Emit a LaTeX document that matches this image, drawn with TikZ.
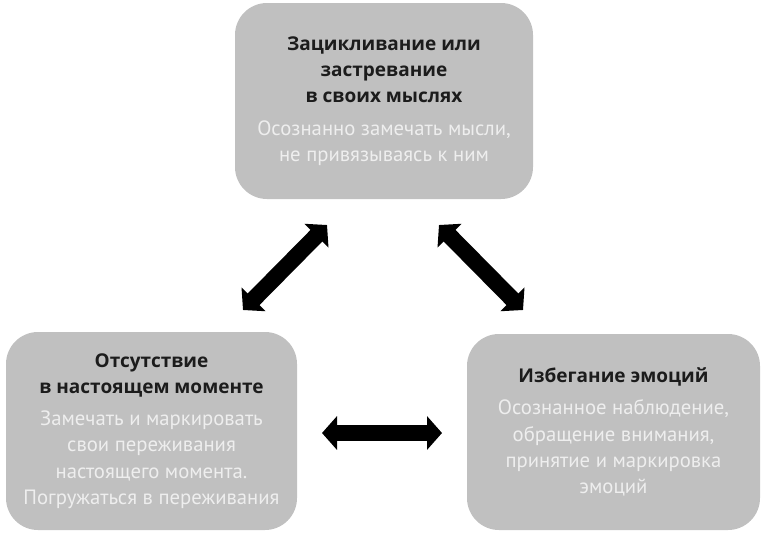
\documentclass[tikz,border=0pt]{standalone}
\usepackage{fontspec}
\setmainfont{PT Sans}
\newfontfamily\titlefont{Open Sans}
\usetikzlibrary{arrows.meta}
\definecolor{boxgray}{RGB}{192,192,192}
\definecolor{titlecol}{RGB}{28,28,28}
\definecolor{bodycol}{RGB}{238,238,238}
\tikzset{
  box/.style={fill=boxgray, rounded corners=32pt, inner sep=0pt, align=center,
    font=\fontsize{20.7}{26.3}\selectfont},
  bigarrow/.style={line width=16.5pt, {Triangle[length=15pt,width=33pt]}-{Triangle[length=15pt,width=33pt]}},
}
\newcommand{\ttl}[1]{\textcolor{titlecol}{\titlefont\bfseries\fontsize{19}{26.3}\selectfont #1}}
\newcommand{\bdy}[1]{\textcolor{bodycol}{#1}}
\begin{document}
\begin{tikzpicture}[x=1pt,y=-1pt]
\useasboundingbox (0,0) rectangle (765,533);
\node[box, minimum width=298pt, minimum height=196pt] (top) at (384,101)
  {\ttl{Зацикливание или}\\ \ttl{застревание}\\ \ttl{в своих мыслях}\\[6pt]
   \bdy{Осознанно замечать мысли,}\\ \bdy{не привязываясь к ним}};
\node[box, minimum width=291pt, minimum height=198pt] (left) at (151.5,431)
  {\ttl{Отсутствие}\\ \ttl{в настоящем моменте}\\[6pt]
   \bdy{Замечать и маркировать}\\ \bdy{свои переживания}\\ \bdy{настоящего момента.}\\ \bdy{Погружаться в переживания}};
\node[box, minimum width=293pt, minimum height=196pt] (right) at (613.5,432)
  {\ttl{Избегание эмоций}\\[6pt]
   \bdy{Осознанное наблюдение,}\\ \bdy{обращение внимания,}\\ \bdy{принятие и маркировка}\\ \bdy{эмоций}};
\coordinate (tl) at (327,225);
\coordinate (bl) at (243,310);
\coordinate (tr) at (439,225);
\coordinate (br) at (523,310);
\coordinate (hl) at (322,433);
\coordinate (hr) at (442,433);
\draw[bigarrow] (bl) -- (tl);
\draw[bigarrow] (tr) -- (br);
\draw[bigarrow] (hl) -- (hr);
\end{tikzpicture}
\end{document}
